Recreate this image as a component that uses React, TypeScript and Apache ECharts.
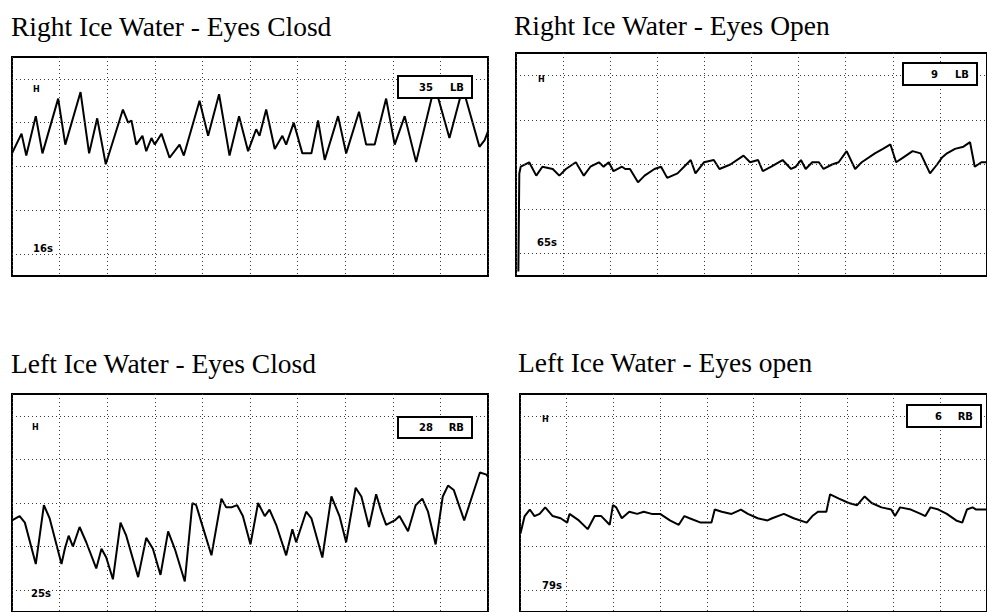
import React, { useEffect, useRef } from "react";
import * as echarts from "echarts";

// Panel titles
const panelTitles = [
  "Right Ice Water - Eyes Closd",
  "Right Ice Water - Eyes Open",
  "Left Ice Water - Eyes Closd",
  "Left Ice Water - Eyes open",
];

// Beat counts and direction shown in the boxed labels
const beatCounts = ["35", "9", "28", "6"];
const beatSides = ["LB", "LB", "RB", "RB"];
// Recording start time labels
const startTimes = ["16s", "65s", "25s", "79s"];

// Horizontal grid levels (percent of panel height)
const hGridLevels = [10, 30, 50, 70, 90];

// Right ice water, eyes closed
const rightClosedTime = [0.0, 0.2, 0.3, 0.5, 0.64, 0.97, 1.12, 1.44, 1.62, 1.79, 1.97, 2.33, 2.44, 2.51, 2.61, 2.74, 2.82, 2.93, 3.0, 3.14, 3.31, 3.52, 3.61, 3.94, 4.12, 4.35, 4.57, 4.77, 4.96, 5.13, 5.2, 5.34, 5.52, 5.68, 5.76, 5.92, 6.1, 6.29, 6.43, 6.57, 6.85, 7.02, 7.29, 7.44, 7.62, 7.86, 8.04, 8.25, 8.49, 8.88, 9.19, 9.47, 9.82, 9.93, 10.0];
const rightClosedValue = [56, 65, 55, 73, 56, 81, 60, 84, 56, 72, 51, 76, 70, 71, 60, 64, 57, 63, 60, 65, 54, 60, 55, 80, 64, 83, 55, 73, 57, 67, 64, 76, 58, 64, 60, 70, 56, 56, 71, 53, 73, 56, 75, 60, 60, 81, 60, 73, 52, 87, 63, 86, 59, 62, 66];

// Right ice water, eyes open
const rightOpenTime = [0.05, 0.07, 0.1, 0.28, 0.43, 0.56, 0.78, 0.92, 1.06, 1.27, 1.44, 1.58, 1.76, 1.86, 1.97, 2.07, 2.25, 2.32, 2.42, 2.59, 2.73, 2.94, 3.08, 3.21, 3.43, 3.71, 3.81, 3.99, 4.2, 4.32, 4.55, 4.83, 4.97, 5.14, 5.24, 5.42, 5.66, 5.84, 5.94, 6.05, 6.15, 6.29, 6.43, 6.53, 6.71, 6.85, 7.02, 7.2, 7.34, 7.62, 7.79, 7.95, 8.07, 8.21, 8.42, 8.59, 8.79, 8.94, 9.04, 9.15, 9.32, 9.5, 9.64, 9.74, 9.88, 10.0];
const rightOpenValue = [2, 46, 49, 51, 45, 49, 48, 45, 48, 51, 45, 49, 51, 49, 51, 47, 49, 48, 48, 42, 45, 48, 49, 44, 46, 52, 46, 51, 52, 48, 50, 54, 51, 52, 47, 49, 52, 48, 49, 52, 48, 51, 51, 48, 50, 51, 56, 48, 51, 55, 57, 59, 51, 53, 56, 55, 46, 50, 53, 55, 57, 58, 60, 49, 51, 51];

// Left ice water, eyes closed
const leftClosedTime = [0.0, 0.16, 0.27, 0.5, 0.67, 0.79, 1.04, 1.11, 1.19, 1.28, 1.42, 1.56, 1.77, 1.88, 1.98, 2.12, 2.28, 2.4, 2.65, 2.82, 2.96, 3.12, 3.28, 3.42, 3.63, 3.79, 3.87, 3.98, 4.19, 4.4, 4.5, 4.61, 4.73, 4.85, 5.01, 5.17, 5.24, 5.31, 5.41, 5.55, 5.76, 5.89, 5.97, 6.18, 6.29, 6.52, 6.71, 6.88, 7.02, 7.22, 7.34, 7.5, 7.65, 7.76, 7.86, 8.04, 8.14, 8.32, 8.48, 8.62, 8.74, 8.9, 9.05, 9.16, 9.28, 9.5, 9.68, 9.83, 9.97, 10.0];
const leftClosedValue = [42, 44, 41, 22, 49, 43, 22, 29, 35, 30, 39, 32, 20, 29, 25, 15, 41, 35, 16, 34, 29, 17, 37, 29, 14, 50, 49, 41, 26, 52, 48, 48, 49, 44, 31, 50, 47, 44, 47, 40, 26, 38, 32, 46, 43, 25, 53, 44, 32, 57, 53, 39, 54, 46, 40, 42, 44, 37, 49, 52, 46, 31, 53, 58, 56, 42, 54, 64, 63, 62];

// Left ice water, eyes open
const leftOpenTime = [0.01, 0.1, 0.21, 0.31, 0.42, 0.54, 0.7, 0.87, 1.01, 1.06, 1.26, 1.45, 1.6, 1.74, 1.92, 1.99, 2.06, 2.18, 2.34, 2.51, 2.65, 2.82, 3.0, 3.21, 3.4, 3.52, 3.63, 3.87, 4.1, 4.17, 4.32, 4.53, 4.73, 4.88, 5.09, 5.3, 5.4, 5.65, 5.86, 6.14, 6.26, 6.38, 6.56, 6.64, 6.83, 7.04, 7.22, 7.38, 7.53, 7.74, 7.95, 8.03, 8.14, 8.37, 8.58, 8.68, 8.79, 8.96, 9.14, 9.34, 9.47, 9.57, 9.69, 9.77, 10.0];
const leftOpenValue = [36, 44, 47, 44, 45, 48, 44, 43, 41, 45, 42, 38, 44, 44, 40, 49, 48, 43, 46, 45, 46, 45, 45, 42, 40, 44, 43, 41, 41, 47, 46, 45, 47, 45, 43, 42, 43, 45, 43, 41, 44, 46, 46, 54, 52, 50, 49, 53, 50, 48, 47, 44, 48, 47, 45, 44, 48, 47, 45, 42, 41, 47, 48, 47, 47];

const traceTimes = [rightClosedTime, rightOpenTime, leftClosedTime, leftOpenTime];
const traceValues = [rightClosedValue, rightOpenValue, leftClosedValue, leftOpenValue];

// Layout of each panel (pixels)
const layouts = [
  { left: 12, top: 57, width: 476, height: 219, titleX: 11, titleY: 12, box: [398, 76, 74, 22], h: [33, 89], t: [33, 248] },
  { left: 516, top: 53, width: 478, height: 223, titleX: 514, titleY: 11, box: [903, 63, 74, 22], h: [538, 79], t: [537, 242] },
  { left: 12, top: 394, width: 476, height: 220, titleX: 11, titleY: 349, box: [398, 417, 74, 21], h: [32, 427], t: [31, 593] },
  { left: 520, top: 394, width: 478, height: 220, titleX: 518, titleY: 348, box: [907, 405, 74, 22], h: [542, 419], t: [542, 585] },
];

const gridLineStyle = { color: "#3a3a3a", width: 1, type: [1, 3] as any };

export default function App() {
  const ref = useRef<HTMLDivElement>(null);

  useEffect(() => {
    if (!ref.current) return;
    const chart = echarts.init(ref.current, undefined, { renderer: "svg" });

    const grids = layouts.map((l) => ({
      left: l.left,
      top: l.top,
      width: l.width,
      height: l.height,
      show: true,
      borderColor: "#000",
      borderWidth: 2,
      backgroundColor: "transparent",
    }));

    const xAxes = layouts.map((_, i) => ({
      gridIndex: i,
      type: "value",
      min: 0,
      max: 10,
      interval: 1,
      axisLine: { show: false },
      axisTick: { show: false },
      axisLabel: { show: false },
      splitLine: { show: true, lineStyle: gridLineStyle },
    }));

    const yAxes = layouts.map((_, i) => ({
      gridIndex: i,
      type: "value",
      min: 0,
      max: 100,
      axisLine: { show: false },
      axisTick: { show: false },
      axisLabel: { show: false },
      splitLine: { show: false },
    }));

    const series = layouts.map((_, i) => ({
      type: "line",
      xAxisIndex: i,
      yAxisIndex: i,
      data: traceTimes[i].map((t, k) => [t, traceValues[i][k]]),
      showSymbol: false,
      symbol: "none",
      silent: true,
      z: 3,
      lineStyle: { color: "#000", width: 2 },
      markLine: {
        silent: true,
        symbol: ["none", "none"],
        label: { show: false },
        emphasis: { disabled: true },
        lineStyle: gridLineStyle,
        data: hGridLevels.map((v) => ({ yAxis: v })),
      },
    }));

    const titles = layouts.map((l, i) => ({
      text: panelTitles[i],
      left: l.titleX,
      top: l.titleY,
      padding: 0,
      textStyle: {
        fontFamily: "Liberation Serif",
        fontSize: 27.5,
        fontWeight: "normal",
        color: "#000",
      },
    }));

    const graphics: any[] = [];
    layouts.forEach((l, i) => {
      const [bx, by, bw, bh] = l.box;
      graphics.push({
        type: "rect",
        z: 100,
        shape: { x: bx, y: by, width: bw, height: bh },
        style: { fill: "#fff", stroke: "#000", lineWidth: 2 },
      });
      graphics.push({
        type: "text",
        z: 101,
        x: bx + bw - 39,
        y: by + bh / 2,
        style: {
          text: beatCounts[i],
          fontFamily: "DejaVu Sans",
          fontWeight: "bold",
          fontSize: 10,
          fill: "#000",
          align: "right",
          verticalAlign: "middle",
        },
      });
      graphics.push({
        type: "text",
        z: 101,
        x: bx + bw - 8,
        y: by + bh / 2,
        style: {
          text: beatSides[i],
          fontFamily: "DejaVu Sans",
          fontWeight: "bold",
          fontSize: 10,
          fill: "#000",
          align: "right",
          verticalAlign: "middle",
        },
      });
      graphics.push({
        type: "text",
        z: 101,
        x: l.h[0],
        y: l.h[1],
        style: {
          text: "H",
          fontFamily: "DejaVu Sans",
          fontWeight: "bold",
          fontSize: 8,
          fill: "#000",
          align: "left",
          verticalAlign: "middle",
        },
      });
      graphics.push({
        type: "text",
        z: 101,
        x: l.t[0],
        y: l.t[1],
        style: {
          text: startTimes[i],
          fontFamily: "DejaVu Sans",
          fontWeight: "bold",
          fontSize: 10,
          fill: "#000",
          align: "left",
          verticalAlign: "middle",
        },
      });
    });

    chart.setOption({
      animation: false,
      backgroundColor: "#fff",
      title: titles,
      grid: grids,
      xAxis: xAxes,
      yAxis: yAxes,
      series,
      graphic: graphics,
    } as any);

    return () => chart.dispose();
  }, []);

  return (
    <div
      ref={ref}
      style={{ position: "fixed", left: 0, top: 0, width: 987, height: 612, background: "#fff" }}
    />
  );
}
